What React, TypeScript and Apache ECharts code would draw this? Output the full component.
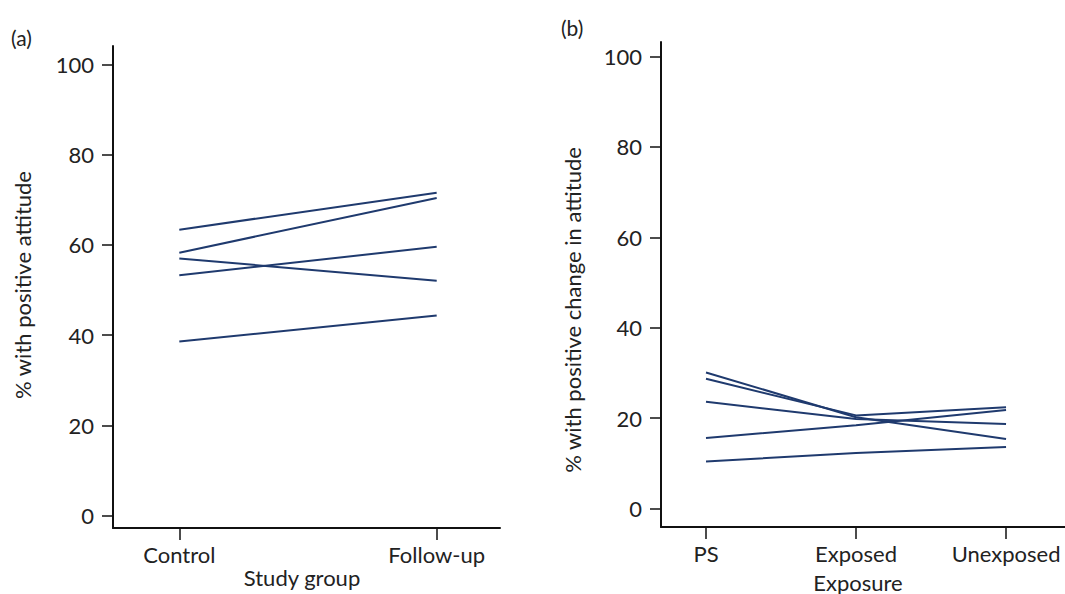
import React, { useEffect, useRef } from "react";
import * as echarts from "echarts";

const groupsA = ["Control", "Follow-up"];
const seriesA: number[][] = [
  [63.4, 71.6],
  [58.3, 70.4],
  [57.0, 52.1],
  [53.3, 59.6],
  [38.6, 44.4],
];

const groupsB = ["PS", "Exposed", "Unexposed"];
const seriesB: number[][] = [
  [30.1, 20.2, 15.4],
  [28.7, 20.6, 22.4],
  [23.6, 19.8, 18.7],
  [15.6, 18.4, 21.8],
  [10.4, 12.3, 13.6],
];

const yTicks = [0, 20, 40, 60, 80, 100];

const LINE = "#1f3a6e";
const FONT = "Lato";
const TXT = "#222222";
const FS = 22;

export default function App() {
  const ref = useRef<HTMLDivElement>(null);
  useEffect(() => {
    if (!ref.current) return;
    const chart = echarts.init(ref.current, null, { renderer: "svg" });
    const axisLine = { show: true, onZero: false, lineStyle: { color: "#111", width: 2 } };
    const xAxisCommon = (cats: string[], min: number, max: number, gridIndex: number) => ({
      type: "value",
      gridIndex,
      min,
      max,
      axisLine,
      splitLine: { show: false },
      axisTick: {
        show: true,
        length: 12,
        lineStyle: { color: "#111", width: 1.5 },
        customValues: cats.map((_, i) => i),
      },
      axisLabel: {
        show: true,
        fontFamily: FONT,
        fontSize: FS,
        color: TXT,
        margin: 15,
        customValues: cats.map((_, i) => i),
        formatter: (v: number) => cats[Math.round(v)] ?? "",
      },
    });
    const yAxisCommon = (min: number, max: number, gridIndex: number) => ({
      type: "value",
      gridIndex,
      min,
      max,
      axisLine,
      splitLine: { show: false },
      axisTick: {
        show: true,
        length: 11,
        lineStyle: { color: "#111", width: 1.5 },
        customValues: yTicks,
      },
      axisLabel: {
        show: true,
        fontFamily: FONT,
        fontSize: FS,
        color: TXT,
        margin: 19,
        customValues: yTicks,
      },
    });
    const mkSeries = (rows: number[][], idx: number) =>
      rows.map((r) => ({
        type: "line",
        xAxisIndex: idx,
        yAxisIndex: idx,
        data: r.map((v, i) => [i, v]),
        symbol: "none",
        lineStyle: { color: LINE, width: 2 },
        silent: true,
      }));
    chart.setOption({
      animation: false,
      backgroundColor: "#fff",
      grid: [
        { left: 113, top: 46, width: 387, height: 482 },
        { left: 661, top: 42, width: 404, height: 485 },
      ],
      xAxis: [
        xAxisCommon(groupsA, -0.2576, 1.246, 0),
        xAxisCommon(groupsB, -0.3, 2.393, 1),
      ],
      yAxis: [yAxisCommon(-2.72, 104.1, 0), yAxisCommon(-4.09, 103.2, 1)],
      series: [...mkSeries(seriesA, 0), ...mkSeries(seriesB, 1)],
      graphic: [
        { type: "text", x: 11, y: 37, style: { text: "(a)", font: `21px ${FONT}`, fill: TXT, verticalAlign: "middle" } },
        { type: "text", x: 561, y: 27, style: { text: "(b)", font: `21px ${FONT}`, fill: TXT, verticalAlign: "middle" } },
        {
          type: "text",
          x: 22,
          y: 285,
          rotation: Math.PI / 2,
          style: { text: "% with positive attitude", font: `${FS}px ${FONT}`, fill: TXT, align: "center", verticalAlign: "middle" },
        },
        {
          type: "text",
          x: 572,
          y: 310,
          rotation: Math.PI / 2,
          style: { text: "% with positive change in attitude", font: `${FS}px ${FONT}`, fill: TXT, align: "center", verticalAlign: "middle" },
        },
        {
          type: "text",
          x: 302,
          y: 577,
          style: { text: "Study group", font: `${FS}px ${FONT}`, fill: TXT, align: "center", verticalAlign: "middle" },
        },
        {
          type: "text",
          x: 858,
          y: 582,
          style: { text: "Exposure", font: `${FS}px ${FONT}`, fill: TXT, align: "center", verticalAlign: "middle" },
        },
      ],
    });
    return () => chart.dispose();
  }, []);
  return <div ref={ref} style={{ position: "fixed", left: 0, top: 0, width: 1065, height: 594 }} />;
}
